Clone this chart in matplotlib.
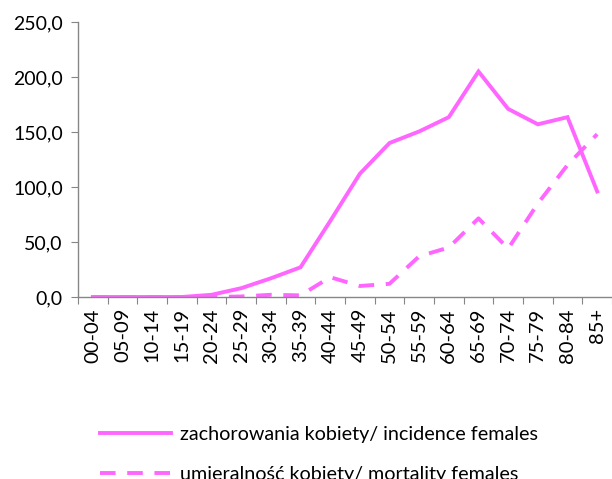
import matplotlib
matplotlib.use("Agg")
import matplotlib.pyplot as plt
import numpy as np

plt.rcParams['font.family'] = ['Lato', 'DejaVu Sans']

categories = ["00-04", "05-09", "10-14", "15-19", "20-24", "25-29", "30-34", "35-39",
              "40-44", "45-49", "50-54", "55-59", "60-64", "65-69", "70-74", "75-79",
              "80-84", "85+"]
incidence = [0.0, 0.0, 0.0, 0.0, 2.0, 8.0, 17.0, 27.0, 69.0, 112.0, 140.0, 150.5,
             163.5, 205.0, 171.0, 157.0, 163.5, 96.0]
mortality = [0.0, 0.0, 0.0, 0.0, 0.0, 0.5, 2.0, 1.5, 18.0, 10.0, 12.0, 37.0,
             45.0, 71.5, 44.0, 85.0, 120.0, 148.0]
yticks = [0, 50, 100, 150, 200, 250]
ytick_labels = ["0,0", "50,0", "100,0", "150,0", "200,0", "250,0"]

color = '#FF66FF'

fig = plt.figure(figsize=(6.12, 4.79), dpi=100)
ax = fig.add_axes([78/612, 1 - 297/479, 534/612, 275/479])

x = np.arange(len(categories))
ax.plot(x, incidence, color=color, lw=2.8, solid_joinstyle='miter',
        label="zachorowania kobiety/ incidence females")
ax.plot(x, mortality, color=color, lw=2.8, linestyle=(0, (4, 3)),
        label="umieralność kobiety/ mortality females")

ax.set_xlim(-0.5, len(categories) - 0.5)
ax.set_ylim(0, 250)
ax.set_yticks(yticks)
ax.set_yticklabels(ytick_labels, fontsize=14)

ax.set_xticks(np.arange(-0.5, len(categories) + 0.5, 1.0))
ax.set_xticklabels([])
ax.set_xticks(x, minor=True)
ax.set_xticklabels(categories, minor=True, rotation=90, fontsize=14.5)
ax.tick_params(axis='x', which='minor', length=0, pad=8)
ax.tick_params(axis='x', which='major', length=5, color='#868686')
ax.tick_params(axis='y', length=5, color='#868686', pad=6)

for s in ['top', 'right']:
    ax.spines[s].set_visible(False)
for s in ['left', 'bottom']:
    ax.spines[s].set_color('#868686')
    ax.spines[s].set_linewidth(1.0)

fig.legend(loc='upper left', bbox_to_anchor=(100/612, 1 - 426/479), frameon=False,
           fontsize=14.2, handlelength=3.6, handletextpad=0.45, borderpad=0,
           borderaxespad=0, labelspacing=1.15)

fig.savefig("out.png", dpi=100)
